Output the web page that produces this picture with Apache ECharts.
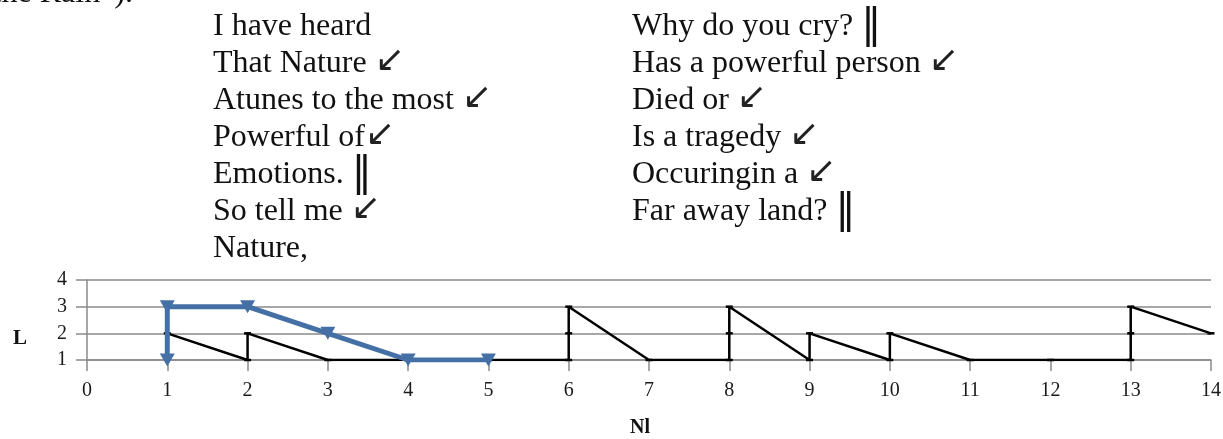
<!DOCTYPE html>
<html>
<head>
<meta charset="utf-8">
<title>Nl / L</title>
<script src="https://cdn.jsdelivr.net/npm/echarts/dist/echarts.min.js"></script>
</head>
<body style="margin:0;padding:0;background:#fff;overflow:hidden;">
<div id="main" style="width:1223px;height:439px;"></div>
<script>
// black line: line number (Nl) vs level (L)
var nlValues = [1, 2, 2, 3, 4, 5, 6, 6, 6, 7, 8, 8, 8, 9, 9, 10, 10, 11, 12, 13, 13, 13, 14];
var lValues  = [2, 1, 2, 1, 1, 1, 1, 2, 3, 1, 1, 2, 3, 1, 2, 1, 2, 1, 1, 1, 2, 3, 2];

// blue path
var pathNl = [1, 1, 2, 3, 4, 5];
var pathL  = [1, 3, 3, 2, 1, 1];

// poem, two columns
var poemLeft = [
    'I have heard',
    'That Nature {arr|↙}',
    'Atunes to the most {arr|↙}',
    'Powerful of{arr|↙}',
    'Emotions. {bar|‖}',
    'So tell me {arr|↙}',
    'Nature,'
];
var poemRight = [
    'Why do you cry? {bar|‖}',
    'Has a powerful person {arr|↙}',
    'Died or {arr|↙}',
    'Is a tragedy {arr|↙}',
    'Occuringin a {arr|↙}',
    'Far away land? {bar|‖}'
];

var serif = '"Liberation Serif", "Times New Roman", "DejaVu Sans", serif';
var gray = '#8a8a8a';

function zip(a, b) {
    return a.map(function (v, i) { return [v, b[i]]; });
}

function poemText(lines, x) {
    return lines.map(function (line, i) {
        return {
            type: 'text',
            z: 10,
            style: {
                text: line,
                x: x,
                y: 38 + 37 * i - 11,
                verticalAlign: 'middle',
                font: '32px ' + serif,
                fill: '#111',
                rich: {
                    arr: { fontSize: 36, fontFamily: 'DejaVu Sans', fill: '#222', padding: [0, 0, 4, 0] },
                    bar: { fontSize: 40, fontFamily: 'DejaVu Sans', fill: '#111' }
                }
            }
        };
    });
}

var graphics = poemText(poemLeft, 213).concat(poemText(poemRight, 632));
graphics.push({
    type: 'text',
    style: {
        text: 'the Rain”).',
        x: 133, y: 5 - 11,
        align: 'right',
        verticalAlign: 'middle',
        font: '32px ' + serif,
        fill: '#111'
    }
});

var myChart = echarts.init(document.getElementById('main'));

var option = {
    animation: false,
    backgroundColor: '#fff',
    grid: {
        left: 87,
        right: 12,
        top: 280,
        bottom: 79,
        containLabel: false,
        outerBoundsMode: 'none'
    },
    xAxis: {
        type: 'value',
        min: 0,
        max: 14,
        interval: 1,
        name: 'Nl',
        nameLocation: 'middle',
        nameGap: 58,
        nameTextStyle: {
            fontFamily: serif, fontSize: 20, fontWeight: 'bold', color: '#111',
            padding: [0, 18, 0, 0]
        },
        axisLine: { show: true, lineStyle: { color: gray, width: 1.5 } },
        axisTick: { show: true, length: 11, lineStyle: { color: gray, width: 1.5 } },
        axisLabel: { margin: 21, fontFamily: serif, fontSize: 20, color: '#1a1a1a' },
        splitLine: { show: false }
    },
    yAxis: {
        type: 'value',
        min: 1,
        max: 4,
        interval: 1,
        name: 'L',
        nameLocation: 'middle',
        nameRotate: 0,
        nameGap: 60,
        nameTextStyle: {
            fontFamily: serif, fontSize: 21, fontWeight: 'bold', color: '#111',
            verticalAlign: 'top', lineHeight: 38
        },
        axisLine: { show: true, lineStyle: { color: gray, width: 1.5 } },
        axisTick: { show: true, length: 11, lineStyle: { color: gray, width: 1.5 } },
        axisLabel: { margin: 20, fontFamily: serif, fontSize: 20, color: '#1a1a1a' },
        splitLine: { show: true, lineStyle: { color: gray, width: 1.5 } }
    },
    graphic: graphics,
    series: [
        {
            type: 'line',
            data: zip(nlValues, lValues),
            symbol: 'rect',
            symbolSize: [7, 2.5],
            showAllSymbol: true,
            lineStyle: { color: '#000', width: 2.5 },
            itemStyle: { color: '#000' },
            z: 3
        },
        {
            type: 'line',
            data: zip(pathNl, pathL),
            symbol: 'triangle',
            symbolRotate: 180,
            symbolSize: [15, 13],
            showAllSymbol: true,
            lineStyle: { color: '#4570a6', width: 5 },
            itemStyle: { color: '#4570a6' },
            z: 4
        }
    ]
};

myChart.setOption(option);
</script>
</body>
</html>
